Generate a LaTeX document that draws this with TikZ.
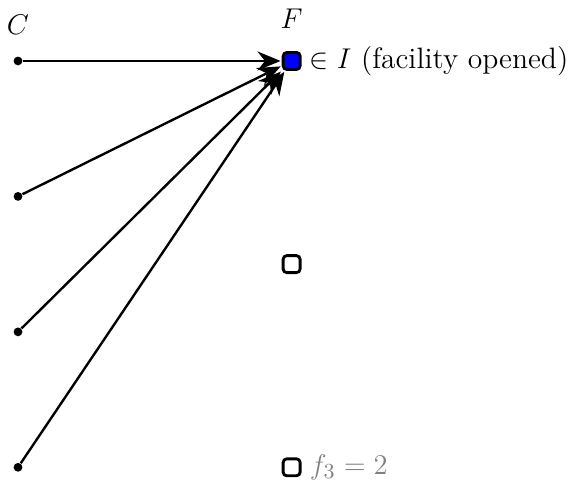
\documentclass[tikz,border=0pt]{standalone}
\usepackage{amsmath, amssymb}
\usepackage{tikz}
\usetikzlibrary{arrows.meta,positioning,calc}

\begin{document}
\begin{tikzpicture}[
    client/.style={circle, fill=black, inner sep=0pt, minimum size=0.13cm},
    facility/.style={rectangle, draw, line width=1.2pt, rounded corners=1.5pt, minimum size=0.25cm, inner sep=0pt},
    opened/.style={facility, fill=blue},
    assign/.style={-{Stealth[length=3.4mm, width=2.8mm]}, line width=1pt, shorten >=0.5pt},
    lbl/.style={font=\fontsize{12.4}{15}\selectfont}
]
\useasboundingbox (-0.266, 0.90) rectangle (8.18, -6.22);

% Clients
\node[client] (c1) at (0, 0) {};
\node[client] (c2) at (0, -2) {};
\node[client] (c3) at (0, -4) {};
\node[client] (c4) at (0, -6) {};
\node[lbl] at (0, 0.53) {$C$};

% Facilities
\node[opened] (f1) at (4.04, 0) {};
\node[facility] (f2) at (4.04, -3) {};
\node[facility] (f3) at (4.04, -6) {};
\node[lbl] at (4.04, 0.63) {$F$};

% Labels
\node[right=0pt of f1, lbl] {$\in I$ (facility opened)};
\node[right=0pt of f3, lbl, text=gray] {$f_3 = 2$};

% Assignments
\draw[assign] (c1) -- (f1);
\draw[assign] (c2) -- (f1);
\draw[assign] (c3) -- (f1);
\draw[assign] (c4) -- (f1);

\end{tikzpicture}
\end{document}
